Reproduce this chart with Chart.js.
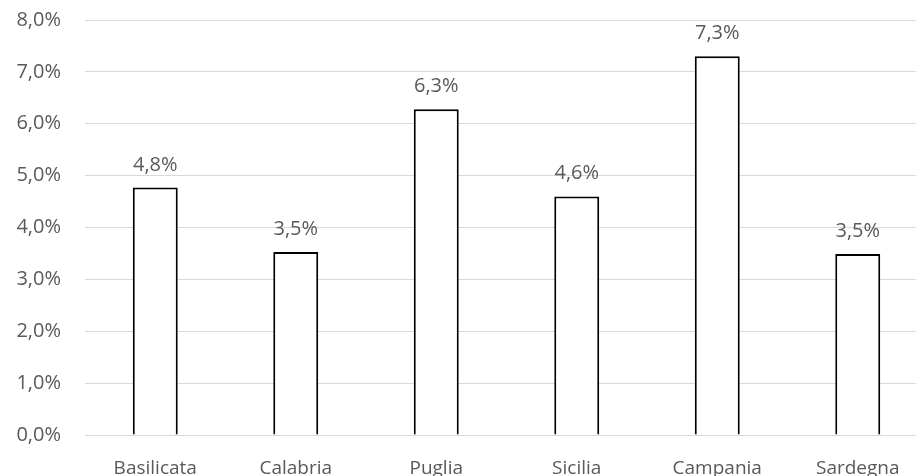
<!DOCTYPE html>
<html>
<head>
<meta charset="utf-8">
<script src="https://cdn.jsdelivr.net/npm/chart.js@4"></script>
<style>
  html, body { margin: 0; padding: 0; background: #fff; overflow: hidden; }
  #wrap { position: absolute; left: 0; top: 0; width: 930px; height: 476px; }
</style>
</head>
<body>
<div id="wrap"><canvas id="chart" width="930" height="476"></canvas></div>
<script>
// Regional values (percent).
const regions = ['Basilicata', 'Calabria', 'Puglia', 'Sicilia', 'Campania', 'Sardegna'];
const values = [4.77, 3.53, 6.28, 4.6, 7.3, 3.49];
const yTicks = [0, 1, 2, 3, 4, 5, 6, 7, 8];

const TEXT = '#595959';
const FONT = '"Open Sans", Lato, sans-serif';

const pct = (v) => v.toFixed(1).replace('.', ',') + '%';

// Draws the value label above each bar.
const valueLabels = {
  id: 'valueLabels',
  afterDatasetsDraw(chart) {
    const ctx = chart.ctx;
    const meta = chart.getDatasetMeta(0);
    ctx.save();
    ctx.font = '20px ' + FONT;
    ctx.fillStyle = TEXT;
    ctx.textAlign = 'center';
    ctx.textBaseline = 'alphabetic';
    meta.data.forEach((bar, i) => {
      ctx.fillText(pct(values[i]), bar.x, bar.y - 17);
    });
    ctx.restore();
  },
};

new Chart(document.getElementById('chart'), {
  type: 'bar',
  data: {
    labels: regions,
    datasets: [{
      data: values,
      backgroundColor: '#ffffff',
      borderColor: '#000000',
      borderWidth: 2,
      barPercentage: 0.32,
      categoryPercentage: 1,
    }],
  },
  options: {
    responsive: false,
    animation: false,
    devicePixelRatio: 1,
    layout: { padding: { top: 20, right: 2, left: 0, bottom: 0 } },
    plugins: { legend: { display: false }, tooltip: { enabled: false } },
    scales: {
      x: {
        grid: { display: false, drawTicks: false },
        border: { display: false },
        ticks: { color: TEXT, font: { family: FONT, size: 19 }, padding: 22, maxRotation: 0 },
        afterFit: (axis) => { axis.height = 41; axis.paddingLeft = 0; axis.paddingRight = 0; },
      },
      y: {
        min: 0,
        max: 8,
        afterBuildTicks: (axis) => { axis.ticks = yTicks.map((v) => ({ value: v })); },
        grid: { color: '#d9d9d9', lineWidth: 1, drawTicks: false },
        border: { display: false },
        ticks: { color: TEXT, font: { family: FONT, size: 20 }, padding: 24, callback: (v) => pct(v) },
        afterFit: (axis) => { axis.width = 85; axis.paddingTop = 0; axis.paddingBottom = 0; },
      },
    },
  },
  plugins: [valueLabels],
});
</script>
</body>
</html>
